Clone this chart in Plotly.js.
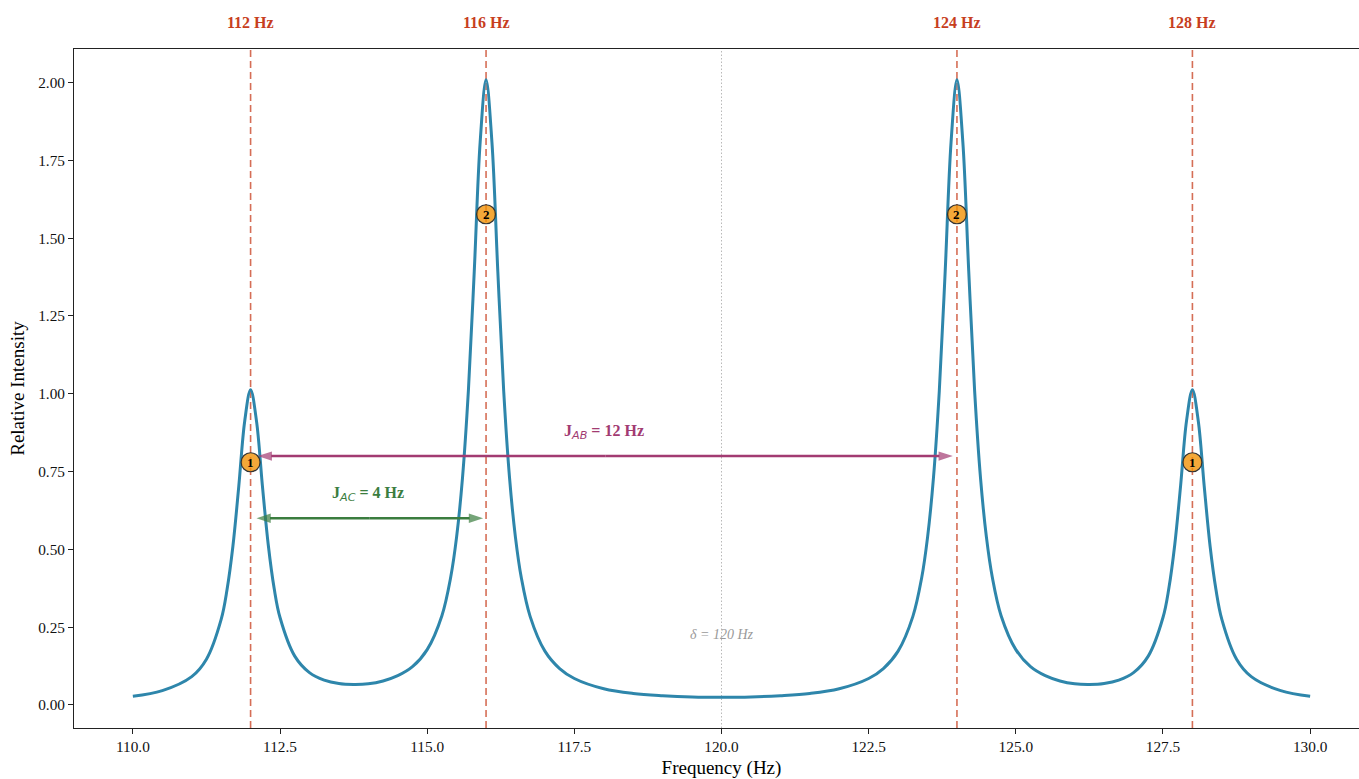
<!DOCTYPE html>
<html>
<head>
<meta charset="utf-8">
<script src="https://cdn.plot.ly/plotly-3.0.1.min.js"></script>
<style>
  html, body { margin: 0; padding: 0; overflow: hidden; background: #ffffff; }
  #chart { width: 1400px; height: 779px; }
</style>
</head>
<body>
<div id="chart"></div>
<script>
// ---- Data ----
const freqHz = [110, 110.5, 111, 111.25, 111.5, 111.6, 111.7, 111.8, 111.9, 112, 112.1, 112.2, 112.3, 112.4, 112.5, 112.75,
  113, 113.25, 113.5, 113.75, 114, 114.25, 114.5, 114.75, 115, 115.25, 115.4, 115.5, 115.6, 115.7, 115.8, 115.9,
  116, 116.1, 116.2, 116.3, 116.4, 116.5, 116.6, 116.75, 117, 117.25, 117.5, 118, 118.5, 119, 119.5,
  120, 120.5, 121, 121.5, 122, 122.5, 122.75, 123, 123.25, 123.4, 123.5, 123.6, 123.7, 123.8, 123.9,
  124, 124.1, 124.2, 124.3, 124.4, 124.5, 124.6, 124.75, 125, 125.25, 125.5, 125.75, 126, 126.25, 126.5, 126.75,
  127, 127.25, 127.5, 127.6, 127.7, 127.8, 127.9, 128, 128.1, 128.2, 128.3, 128.4, 128.5, 128.75, 129, 129.5, 130];
const intensity = [0.028, 0.046, 0.091, 0.147, 0.275, 0.371, 0.511, 0.704, 0.912, 1.013, 0.913, 0.706, 0.515, 0.375, 0.281, 0.157,
  0.104, 0.080, 0.069, 0.066, 0.068, 0.077, 0.094, 0.123, 0.178, 0.287, 0.411, 0.540, 0.730, 1.010, 1.394, 1.809,
  2.009, 1.809, 1.393, 1.009, 0.728, 0.538, 0.408, 0.284, 0.173, 0.117, 0.085, 0.052, 0.037, 0.030, 0.026,
  0.025, 0.026, 0.030, 0.037, 0.052, 0.085, 0.117, 0.173, 0.284, 0.408, 0.538, 0.728, 1.009, 1.393, 1.809,
  2.009, 1.809, 1.394, 1.010, 0.730, 0.540, 0.411, 0.287, 0.178, 0.123, 0.094, 0.077, 0.068, 0.066, 0.069, 0.080,
  0.104, 0.157, 0.281, 0.375, 0.515, 0.706, 0.913, 1.013, 0.912, 0.704, 0.511, 0.371, 0.275, 0.147, 0.091, 0.046, 0.028];

const peakFreq = [112, 116, 124, 128];
const peakLabels = ['112 Hz', '116 Hz', '124 Hz', '128 Hz'];
const multLabels = ['1', '2', '2', '1'];
const multMarkerY = [0.78, 1.577, 1.577, 0.78];

const couplingNames = ['AB', 'AC'];
const couplingHz = [12, 4];
const couplingStart = [112.12, 112.1];
const couplingEnd = [123.93, 115.95];
const couplingY = [0.80, 0.60];
const couplingLabelX = [118, 114];
const couplingLabelY = [0.876, 0.679];
const couplingColors = ['#A23B72', '#3B7D3F'];

const centerFreq = 120;
const centerLabel = 'δ = 120 Hz';
const centerLabelY = 0.225;

const xTickVals = [110, 112.5, 115, 117.5, 120, 122.5, 125, 127.5, 130];
const yTickVals = [0, 0.25, 0.5, 0.75, 1, 1.25, 1.5, 1.75, 2];

// ---- Styling ----
const SERIF = 'Liberation Serif, Times New Roman, serif';
const SANS = 'DejaVu Sans';
const lineRed = 'rgba(199,62,29,0.75)';
const labelRed = '#C73E1D';

const traces = [
  {
    x: freqHz, y: intensity, type: 'scatter', mode: 'lines',
    line: { color: '#2E86AB', width: 3, shape: 'spline', smoothing: 1 },
    hoverinfo: 'x+y'
  }
];

// double-headed coupling arrows: two half segments from the midpoint, arrowhead at each far end
couplingNames.forEach((n, i) => {
  const mid = (couplingStart[i] + couplingEnd[i]) / 2;
  [couplingStart[i], couplingEnd[i]].forEach(endX => {
    traces.push({
      x: [mid, endX], y: [couplingY[i], couplingY[i]], type: 'scatter', mode: 'lines+markers',
      line: { color: couplingColors[i], width: 2.6 },
      marker: { symbol: 'arrow', angleref: 'previous', size: [0, 15], color: couplingColors[i],
        line: { width: 0 } },
      hoverinfo: 'skip', cliponaxis: false
    });
  });
});

// multiplicity circles (numbers are drawn as annotations)
traces.push({
  x: peakFreq, y: multMarkerY, type: 'scatter', mode: 'markers',
  marker: { size: 19, color: 'rgba(241,143,1,0.78)', line: { color: '#333333', width: 1.2 } },
  cliponaxis: false, hoverinfo: 'skip'
});

const shapes = [];
peakFreq.forEach(f => {
  shapes.push({ type: 'line', xref: 'x', yref: 'paper', x0: f, x1: f, y0: 0, y1: 1,
    line: { color: lineRed, width: 1.6, dash: '7px,4px' }, layer: 'below' });
});
shapes.push({ type: 'line', xref: 'x', yref: 'paper', x0: centerFreq, x1: centerFreq, y0: 0, y1: 1,
  line: { color: 'rgba(128,128,128,0.55)', width: 1, dash: '1.5px,2px' }, layer: 'below' });

const annotations = [];
peakFreq.forEach((f, i) => {
  annotations.push({ x: f, xref: 'x', y: 1, yref: 'paper', yanchor: 'middle', yshift: 27,
    text: '<b>' + peakLabels[i] + '</b>', showarrow: false,
    font: { family: SERIF, size: 16, color: labelRed } });
  annotations.push({ x: f, y: multMarkerY[i], xref: 'x', yref: 'y', xanchor: 'center', yanchor: 'middle',
    text: '<b>' + multLabels[i] + '</b>', showarrow: false,
    font: { family: SERIF, size: 13, color: '#000000' } });
});
couplingNames.forEach((n, i) => {
  annotations.push({ x: couplingLabelX[i], y: couplingLabelY[i], xref: 'x', yref: 'y',
    text: '<b>J</b><sub><span style="font-family:' + SANS + ';font-style:italic;font-weight:normal">' + n +
      '</span></sub><b> = ' + couplingHz[i] + ' Hz</b>',
    showarrow: false, font: { family: SERIF, size: 16, color: couplingColors[i] } });
});
annotations.push({ x: centerFreq, y: centerLabelY, xref: 'x', yref: 'y', text: '<i>' + centerLabel + '</i>',
  showarrow: false, font: { family: SERIF, size: 14, color: '#9a9a9a' } });

const layout = {
  width: 1400, height: 779,
  margin: { l: 74, r: 31, t: 49, b: 51 },
  paper_bgcolor: '#ffffff', plot_bgcolor: '#ffffff',
  showlegend: false,
  font: { family: SERIF, size: 15, color: '#000000' },
  xaxis: {
    range: [109, 131], tickvals: xTickVals, ticktext: xTickVals.map(v => v.toFixed(1)),
    showgrid: false, zeroline: false, showline: true, mirror: true, linecolor: '#222222', linewidth: 1,
    ticks: 'outside', ticklen: 5, tickwidth: 1, tickcolor: '#222222',
    tickfont: { family: SERIF, size: 15.3, color: '#111111' },
    title: { text: 'Frequency (Hz)', font: { family: SERIF, size: 19, color: '#000000' }, standoff: 6 },
    automargin: false
  },
  yaxis: {
    range: [-0.074, 2.108], tickvals: yTickVals, ticktext: yTickVals.map(v => v.toFixed(2)),
    showgrid: false, zeroline: false, showline: true, mirror: true, linecolor: '#222222', linewidth: 1,
    ticks: 'outside', ticklen: 5, tickwidth: 1, tickcolor: '#222222',
    tickfont: { family: SERIF, size: 15.3, color: '#111111' },
    title: { text: 'Relative Intensity', font: { family: SERIF, size: 19, color: '#000000' }, standoff: 8 },
    automargin: false
  },
  shapes: shapes,
  annotations: annotations
};

Plotly.newPlot('chart', traces, layout, { displayModeBar: false, staticPlot: true });
</script>
</body>
</html>
